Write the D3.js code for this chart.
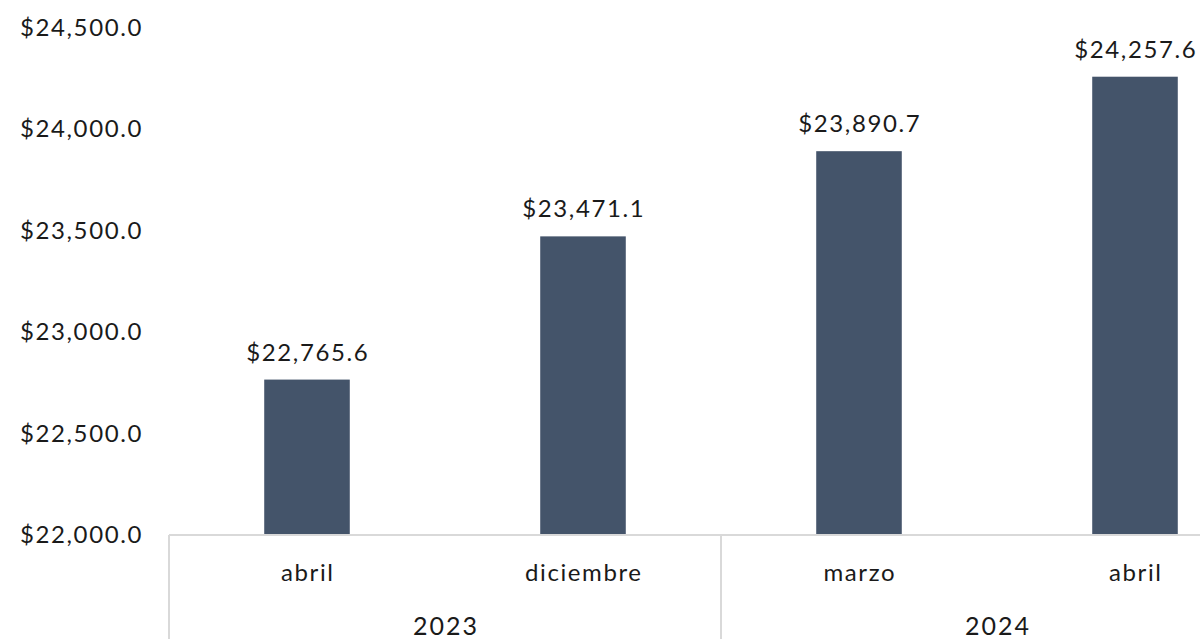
<html>
<head>
  <script src="https://d3js.org/d3.v7.min.js"></script>
  <style>
  body { margin: 0; background: #fff; }
  text { font-family: "Lato", "Noto Sans", sans-serif; fill: #1a1a1a; }
  </style>
</head>
<body>
<div id="chart"></div>
<script>
// data
var months = ["abril", "diciembre", "marzo", "abril"];
var years = ["2023", "2023", "2024", "2024"];
var values = [22765.6, 23471.1, 23890.7, 24257.6];
var yTicks = [22000, 22500, 23000, 23500, 24000, 24500];

var W = 1200, H = 639;
var svg = d3.select("#chart").append("svg").attr("width", W).attr("height", H);

var left = 169, bandW = 276;
var x = d3.scaleBand().domain(d3.range(values.length))
  .range([left, left + bandW * values.length]).paddingInner(0.69).paddingOuter(0.345);
var y = d3.scaleLinear().domain([22000, 24500]).range([535, 27.5]);

var fmt = function(v){ return "$" + d3.format(",.1f")(v); };

// y tick labels (no axis line)
svg.selectAll("text.ytick").data(yTicks).enter().append("text")
  .attr("class", "ytick")
  .attr("x", 20).attr("y", function(d){ return y(d); })
  .attr("dy", "0.35em").style("font-size", "24px").style("letter-spacing", "1.6px")
  .text(fmt);

// bars
svg.selectAll("rect.bar").data(values).enter().append("rect")
  .attr("class", "bar")
  .attr("x", function(d, i){ return x(i); })
  .attr("width", x.bandwidth())
  .attr("y", function(d){ return y(d); })
  .attr("height", function(d){ return y(22000) - y(d); })
  .attr("fill", "#44546A");

// value labels
svg.selectAll("text.val").data(values).enter().append("text")
  .attr("class", "val")
  .attr("x", function(d, i){ return x(i) + x.bandwidth() / 2 + 0.8; })
  .attr("y", function(d){ return y(d) - 19; })
  .attr("text-anchor", "middle").style("font-size", "24px").style("letter-spacing", "1.6px")
  .text(fmt);

// category axis frame
var base = y(22000);
var grid = "#d9d9d9";
svg.append("line").attr("x1", left).attr("x2", W).attr("y1", base).attr("y2", base)
  .attr("stroke", grid).attr("stroke-width", 2);

var yearGroups = d3.groups(d3.range(values.length), function(i){ return years[i]; });
var step = x.step();
var edges = [left];
yearGroups.forEach(function(g){
  edges.push(left + step * (g[1][g[1].length - 1] + 1));
});
svg.selectAll("line.sep").data(edges).enter().append("line")
  .attr("class", "sep")
  .attr("x1", function(d){ return d; }).attr("x2", function(d){ return d; })
  .attr("y1", base).attr("y2", H)
  .attr("stroke", grid).attr("stroke-width", 2);

// month labels
svg.selectAll("text.month").data(months).enter().append("text")
  .attr("class", "month")
  .attr("x", function(d, i){ return x(i) + x.bandwidth() / 2 + 0.8; })
  .attr("y", 581).attr("text-anchor", "middle").style("font-size", "24px").style("letter-spacing", "1.6px")
  .text(function(d){ return d; });

// year labels
svg.selectAll("text.year").data(yearGroups).enter().append("text")
  .attr("class", "year")
  .attr("x", function(g){ return left + step * (g[1][0] + g[1].length / 2) + 1; })
  .attr("y", 635).attr("text-anchor", "middle").style("font-size", "25px").style("letter-spacing", "2px")
  .text(function(g){ return g[0]; });
</script>
</body>
</html>
